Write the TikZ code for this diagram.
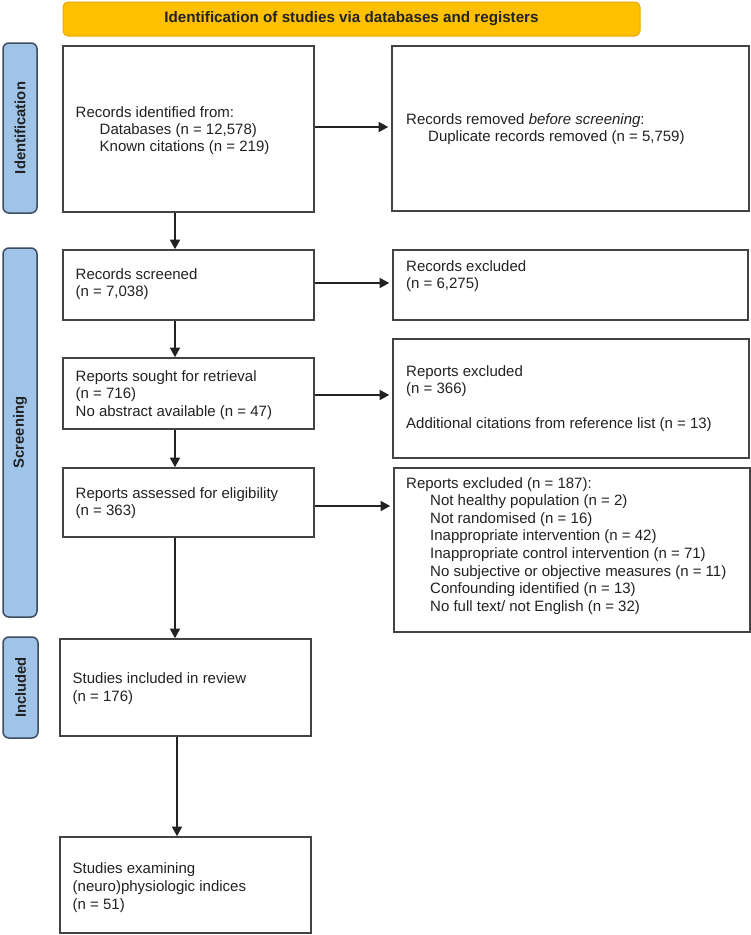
\documentclass[tikz,border=0pt]{standalone}
\usepackage{fontspec}
\setmainfont{Liberation Sans}
\usetikzlibrary{arrows.meta,fit}
\definecolor{bannerfill}{RGB}{255,192,0}
\definecolor{bannerdraw}{RGB}{230,170,0}
\definecolor{sidefill}{RGB}{160,196,232}
\definecolor{sidedraw}{RGB}{60,75,95}
\definecolor{ink}{RGB}{34,34,34}
\tikzset{
  box/.style={draw=ink!85, line width=1.6pt, fill=white, inner sep=0pt},
  banner/.style={draw=bannerdraw, line width=1pt, fill=bannerfill, rounded corners=5pt, inner sep=0pt},
  sidebar/.style={draw=sidedraw, line width=1.5pt, fill=sidefill, rounded corners=6pt, inner sep=0pt},
  txt/.style={inner sep=0pt, align=left, text=ink, font=\fontsize{15}{17.6}\selectfont, anchor=north west},
  sidetxt/.style={inner sep=0pt, text=ink, font=\fontsize{14.8}{17}\selectfont\bfseries, rotate=90},
  arr/.style={draw=ink, line width=1.4pt, -{Triangle[length=9.5pt,width=10pt]}},
}
\begin{document}
\begin{tikzpicture}[x=1pt,y=-1pt]
\useasboundingbox (0,0) rectangle (751,935);
\fill[white] (0,0) rectangle (751,935);
% banner
\node[banner, fit={(63,2) (640,36)}] (ban) {};
\node[inner sep=0pt, text=ink, font=\fontsize{15.2}{17}\selectfont\bfseries] (bant) at (ban.center) {Identification of studies via databases and registers};
% side bars
\node[sidebar, fit={(3,43) (37,213)}] (sid) {};
\node[sidetxt] (sidt) at (sid.center) {Identification};
\node[sidebar, fit={(3,248) (37,617)}] (ssc) {};
\node[sidetxt] (ssct) at (ssc.center) {Screening};
\node[sidebar, fit={(3,637) (38,738)}] (sinc) {};
\node[sidetxt] (sinct) at (sinc.center) {Included};
% boxes
\node[box, fit={(63,46) (314,212)}] (b1) {};
\node[box, fit={(392,46) (749,211)}] (b2) {};
\node[box, fit={(63,250) (314,320)}] (b3) {};
\node[box, fit={(393,250) (748,320)}] (b4) {};
\node[box, fit={(63,358) (314,429)}] (b5) {};
\node[box, fit={(393,339) (749,458)}] (b6) {};
\node[box, fit={(63,468) (314,537)}] (b7) {};
\node[box, fit={(394,468) (750,632)}] (b8) {};
\node[box, fit={(60,639) (311,736)}] (b9) {};
\node[box, fit={(60,837) (311,933)}] (b10) {};
% texts
\node[txt, font=\fontsize{15}{17}\selectfont] (t1) at (75.5,106) {Records identified from:\\\hspace*{24pt}Databases (n = 12,578)\\\hspace*{24pt}Known citations (n = 219)};
\node[txt, font=\fontsize{15}{17}\selectfont] (t2) at (406,113) {Records removed \textit{before screening}:\\\hspace*{22pt}Duplicate records removed (n = 5,759)};
\node[txt] (t3) at (75.5,268) {Records screened\\(n = 7,038)};
\node[txt] (t4) at (406,260) {Records excluded\\(n = 6,275)};
\node[txt] (t5) at (75.5,370) {Reports sought for retrieval\\(n = 716)\\No abstract available (n = 47)};
\node[txt] (t6) at (406,365) {Reports excluded\\(n = 366)\\[17.6pt]Additional citations from reference list (n = 13)};
\node[txt] (t7) at (75.5,487) {Reports assessed for eligibility\\(n = 363)};
\node[txt] (t8) at (406,477) {Reports excluded (n = 187):\\\hspace*{24pt}Not healthy population (n = 2)\\\hspace*{24pt}Not randomised (n = 16)\\\hspace*{24pt}Inappropriate intervention (n = 42)\\\hspace*{24pt}Inappropriate control intervention (n = 71)\\\hspace*{24pt}No subjective or objective measures (n = 11)\\\hspace*{24pt}Confounding identified (n = 13)\\\hspace*{24pt}No full text/ not English (n = 32)};
\node[txt, font=\fontsize{15}{18.5}\selectfont] (t9) at (72.5,672) {Studies included in review\\(n = 176)};
\node[txt, font=\fontsize{15}{18}\selectfont] (t10) at (72.5,862) {Studies examining\\(neuro)physiologic indices\\(n = 51)};
% helper coordinates
\coordinate (vx) at (175,0);
\coordinate (vx2) at (177,0);
\coordinate (h1) at (0,127);
\coordinate (h3) at (0,283);
\coordinate (h5) at (0,395);
\coordinate (h7) at (0,506);
% arrows
\draw[arr, shorten >=3pt] (b1.east |- h1) -- (b2.west |- h1);
\draw[arr, shorten >=3pt] (b3.east |- h3) -- (b4.west |- h3);
\draw[arr, shorten >=3pt] (b5.east |- h5) -- (b6.west |- h5);
\draw[arr, shorten >=3pt] (b7.east |- h7) -- (b8.west |- h7);
\draw[arr] (b1.south -| vx) -- (b3.north -| vx);
\draw[arr] (b3.south -| vx) -- (b5.north -| vx);
\draw[arr] (b5.south -| vx) -- (b7.north -| vx);
\draw[arr] (b7.south -| vx) -- (b9.north -| vx);
\draw[arr] (b9.south -| vx2) -- (b10.north -| vx2);
\end{tikzpicture}
\end{document}
